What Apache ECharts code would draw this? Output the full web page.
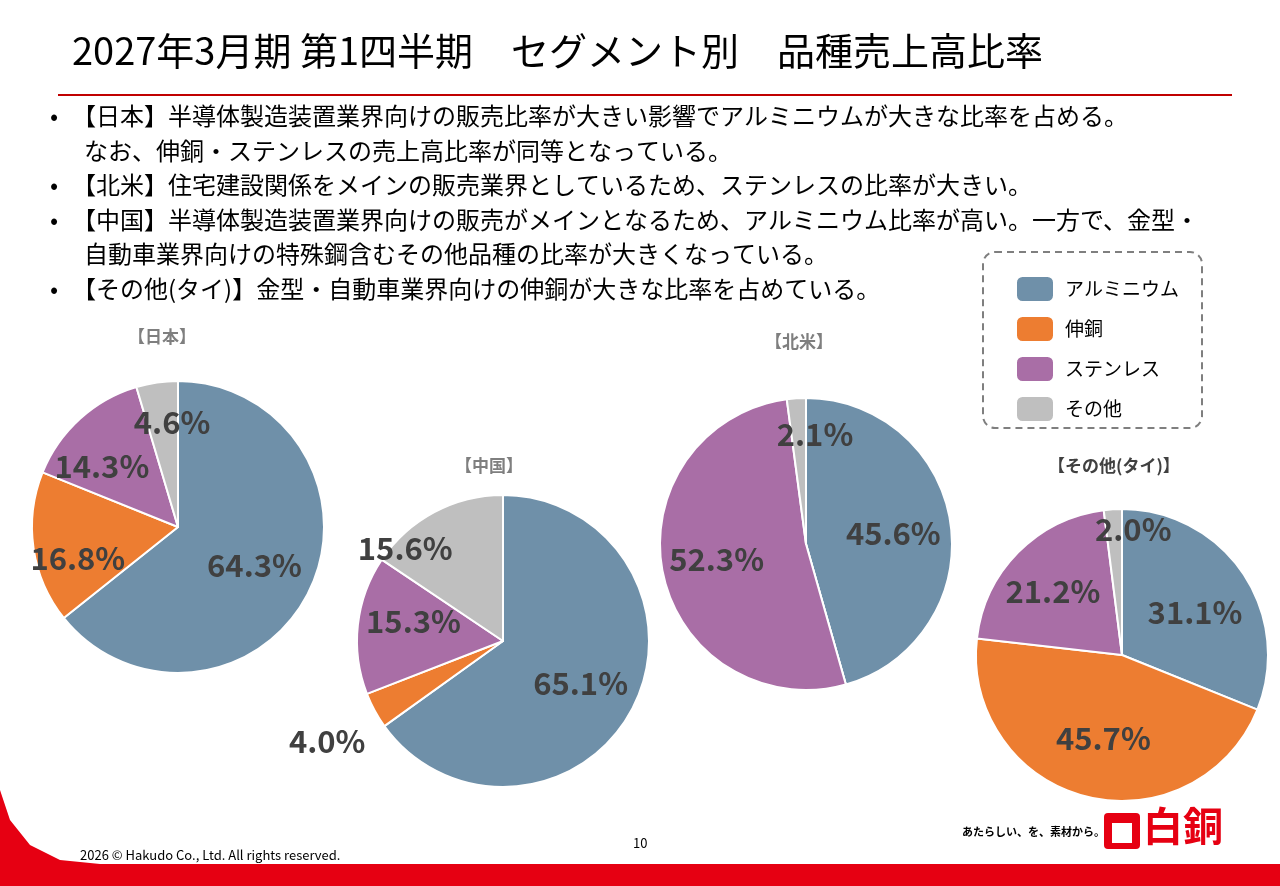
<!DOCTYPE html>
<html><head><meta charset="utf-8">
<script src="https://cdn.jsdelivr.net/npm/echarts@6/dist/echarts.min.js"></script>
<style>html,body{margin:0;padding:0;background:#fff}#c{width:1280px;height:886px}</style>
</head><body><div id="c"></div>
<script>
// product categories (legend order)
const categories = ['アルミニウム', '伸銅', 'ステンレス', 'その他'];
const colors = ['#6F90A9', '#ED7D31', '#A96EA6', '#BFBFBF'];

// sales ratio per segment (%)
const japan = [64.3, 16.8, 14.3, 4.6];
const china = [65.1, 4.0, 15.3, 15.6];
const northAmerica = [45.6, 0, 52.3, 2.1];
const thailand = [31.1, 45.7, 21.2, 2.0];

const bullets = [
  ['•', '【日本】半導体製造装置業界向けの販売比率が大きい影響でアルミニウムが大きな比率を占める。'],
  ['', 'なお、伸銅・ステンレスの売上高比率が同等となっている。'],
  ['•', '【北米】住宅建設関係をメインの販売業界としているため、ステンレスの比率が大きい。'],
  ['•', '【中国】半導体製造装置業界向けの販売がメインとなるため、アルミニウム比率が高い。一方で、金型・'],
  ['', '自動車業界向けの特殊鋼含むその他品種の比率が大きくなっている。'],
  ['•', '【その他(タイ)】金型・自動車業界向けの伸銅が大きな比率を占めている。']
];

const FONT = '"Noto Sans CJK JP", sans-serif';
const chart = echarts.init(document.getElementById('c'));

function pie(name, values, center, offsets) {
  return {
    type: 'pie', name: name, center: center, radius: 146,
    startAngle: 90, clockwise: true, animation: false,
    itemStyle: { borderColor: '#fff', borderWidth: 2 },
    label: { position: 'inside', formatter: p => p.value.toFixed(1) + '%',
      fontSize: 31, fontWeight: 'bold', color: '#404040', fontFamily: FONT },
    labelLine: { show: false },
    emphasis: { disabled: true },
    data: values.map((v, i) => ({
      name: categories[i], value: v, itemStyle: { color: colors[i] },
      label: { show: v > 0, offset: offsets[i] || [0, 0] }
    }))
  };
}

const graphics = [
  { type: 'text', left: 72, top: 32, style: { text: '2027年3月期 第1四半期　セグメント別　品種売上高比率', font: '38px ' + FONT, fill: '#000' } },
  { type: 'rect', shape: { x: 58, y: 94, width: 1174, height: 2 }, style: { fill: '#C00000' } },
  { type: 'rect', shape: { x: 983, y: 252, width: 219, height: 176, r: 12 }, style: { fill: 'none', stroke: '#7F7F7F', lineWidth: 2, lineDash: [7, 5] } },
  { type: 'text', left: 80, top: 849, style: { text: '2026 © Hakudo Co., Ltd. All rights reserved.', font: '13px ' + FONT, fill: '#000' } },
  { type: 'text', left: 633, top: 837, style: { text: '10', font: '13px ' + FONT, fill: '#000' } },
  { type: 'text', left: 962, top: 826, style: { text: 'あたらしい、を、素材から。', font: 'bold 11px ' + FONT, fill: '#000' } },
  { type: 'rect', shape: { x: 1104, y: 813, width: 36, height: 36, r: 4 }, style: { fill: '#E60012' } },
  { type: 'rect', shape: { x: 1112, y: 823, width: 20, height: 20 }, style: { fill: '#fff' } },
  { type: 'text', left: 1143, top: 806, style: { text: '白銅', font: 'bold 40px ' + FONT, fill: '#E60012' } },
  { type: 'polygon', shape: { points: [[0, 790], [10, 820], [30, 845], [60, 860], [100, 864], [1280, 864], [1280, 886], [0, 886]] }, style: { fill: '#E60012' } },
  { type: 'text', left: 128, top: 328, style: { text: '【日本】', font: 'bold 17px ' + FONT, fill: '#7F7F7F' } },
  { type: 'text', left: 455, top: 457, style: { text: '【中国】', font: 'bold 17px ' + FONT, fill: '#7F7F7F' } },
  { type: 'text', left: 765, top: 333, style: { text: '【北米】', font: 'bold 17px ' + FONT, fill: '#7F7F7F' } },
  { type: 'text', left: 1048, top: 457, style: { text: '【その他(タイ)】', font: 'bold 17px ' + FONT, fill: '#404040' } }
];
bullets.forEach((b, i) => {
  const y = 104 + i * 34.5;
  if (b[0]) graphics.push({ type: 'text', left: 50, top: y, style: { text: b[0], font: '24px ' + FONT, fill: '#000' } });
  graphics.push({ type: 'text', left: b[0] ? 72 : 84, top: y, style: { text: b[1], font: '24px ' + FONT, fill: '#000' } });
});

chart.setOption({
  animation: false,
  legend: {
    orient: 'vertical', left: 1010, top: 270, itemWidth: 38, itemHeight: 26, itemGap: 12,
    data: categories, selectedMode: false,
    textStyle: { fontSize: 19, fontFamily: FONT, color: '#000', padding: [0, 0, 0, 6] }
  },
  graphic: graphics,
  series: [
    pie('日本', japan, [178, 527], [[8, 5], [-25, 20], [-25, -5], [5, -30]]),
    pie('中国', china, [503, 641], [[10, 8], [-109, 64], [-14, -11], [-62, -26]]),
    pie('北米', northAmerica, [806, 544], [[12, 0], [0, 0], [-15, 0], [14, -34]]),
    pie('タイ', thailand, [1122, 655], [[10, 0], [0, 10], [-15, -10], [16, -50]])
  ]
});
</script></body></html>
